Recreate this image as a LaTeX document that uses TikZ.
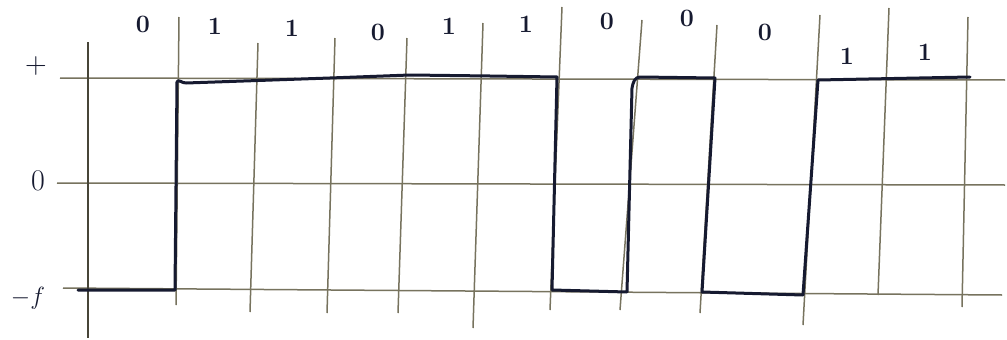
\documentclass[tikz,border=0pt]{standalone}
\begin{document}
\begin{tikzpicture}[x=1pt,y=-1pt,
  grid/.style={draw=gridc,line width=1.5pt},
  ink/.style={draw=inkc,line width=3pt,line join=round,line cap=round},
  bit/.style={text=inkc,font=\fontsize{25}{26}\selectfont\bfseries,inner sep=0pt},
  lvl/.style={text=inkc,font=\fontsize{30}{32}\selectfont,inner sep=0pt}]
\definecolor{gridc}{HTML}{77735E}
\definecolor{inkc}{HTML}{161A30}
\useasboundingbox[fill=white] (0,0) rectangle (1007,340);
% horizontal grid lines
\draw[grid] (60,78) -- (1005,80);
\draw[grid] (57,183) -- (1005,185);
\draw[grid] (63,288) -- (1002,295);
% vertical grid lines
\draw[grid,line width=2pt,draw=gridc!60!black] (88,42) -- (88,338);
\draw[grid] (179,17) -- (176,305);
\draw[grid] (258,43) -- (250,312);
\draw[grid] (335,38) -- (327,313);
\draw[grid] (407,38) -- (398,313);
\draw[grid] (483,23) -- (473,328);
\draw[grid] (562,7) -- (550,310);
\draw[grid] (642,20) -- (620,310);
\draw[grid] (717,25) -- (700,313);
\draw[grid] (820,15) -- (803,325);
\draw[grid] (889,8) -- (878,295);
\draw[grid] (968,17) -- (962,307);
% waveform
\draw[ink] (78,290) -- (175,290) -- (177,82) to[out=80,in=185] (186,83)
  -- (330,78) -- (410,75) -- (490,76) -- (557,77) -- (552,290) -- (627,292)
  -- (632,88) to[out=80,in=180] (640,77) -- (715,78) -- (702,292)
  -- (803,295) -- (818,80) -- (970,77);
% level labels
\node[lvl] (lplus) at (36,66) {+};
\node[lvl] (lzero) at (38,181) {0};
\node[lvl] (lminus) at (28,298) {$-f$};
% bit labels
\node[bit] (b1) at (143,24) {0};
\node[bit] (b2) at (215,26) {1};
\node[bit] (b3) at (292,28) {1};
\node[bit] (b4) at (378,32) {0};
\node[bit] (b5) at (449,26) {1};
\node[bit] (b6) at (526,24) {1};
\node[bit] (b7) at (607,21) {0};
\node[bit] (b8) at (687,18) {0};
\node[bit] (b9) at (765,32) {0};
\node[bit] (b10) at (847,56) {1};
\node[bit] (b11) at (925,52) {1};
\end{tikzpicture}
\end{document}
